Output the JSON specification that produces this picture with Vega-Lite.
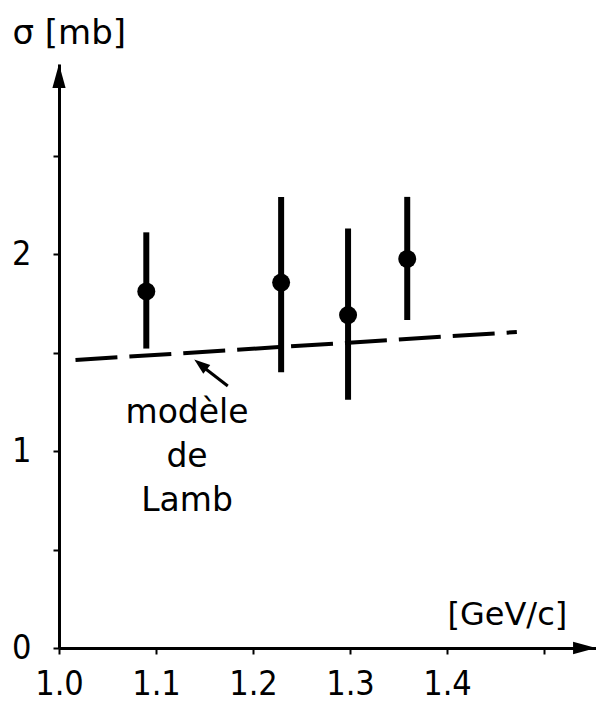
{
  "$schema": "https://vega.github.io/schema/vega-lite/v6.json",
  "width": 537,
  "height": 584,
  "autosize": {"type": "none"},
  "padding": {"left": 59, "top": 64, "right": 0, "bottom": 61},
  "background": "white",
  "config": {"view": {"stroke": null}, "font": "DejaVu Sans"},
  "datasets": {
    "pts": [
      {"x": 1.090, "y": 1.81, "lo": 1.52, "hi": 2.11},
      {"x": 1.229, "y": 1.855, "lo": 1.40, "hi": 2.29},
      {"x": 1.298, "y": 1.69, "lo": 1.26, "hi": 2.13},
      {"x": 1.359, "y": 1.975, "lo": 1.665, "hi": 2.29}
    ],
    "model": [
      {"x": 1.017, "y": 1.462},
      {"x": 1.472, "y": 1.604}
    ],
    "xarrow": [{"x": 1.5418, "y": 0}],
    "yarrow": [{"x": 1.0, "y": 2.904}],
    "pointer": [{"x": 1.174, "y": 1.330, "x2": 1.147, "y2": 1.433}],
    "pointerhead": [{"x": 1.1459, "y": 1.4396}],
    "note": [{"x": 1.132, "y": 1.142, "label": "modèle\nde\nLamb"}]
  },
  "encoding": {
    "x": {
      "field": "x", "type": "quantitative",
      "scale": {"domain": [1.0, 1.55361], "nice": false, "zero": false},
      "axis": {
        "title": "[GeV/c]",
        "values": [1.0, 1.1, 1.2, 1.3, 1.4, 1.5],
        "labelExpr": "datum.value > 1.45 ? '' : format(datum.value, '.1f')",
        "labelOverlap": false, "labelFlush": false,
        "grid": false,
        "domainColor": "black", "domainWidth": 3,
        "tickColor": "black", "tickWidth": 2, "tickSize": 6,
        "labelFont": "DejaVu Sans Condensed, DejaVu Sans", "labelFontSize": 34, "labelColor": "black",
        "labelPadding": 13,
        "titleFont": "DejaVu Sans", "titleFontSize": 32, "titleFontWeight": "normal", "titleColor": "black",
        "titleX": 388, "titleY": -24, "titleAlign": "left", "titleBaseline": "alphabetic", "titleAnchor": null
      }
    },
    "y": {
      "field": "y", "type": "quantitative",
      "scale": {"domain": [0, 2.9645], "nice": false, "zero": false},
      "axis": {
        "title": "σ [mb]",
        "values": [0, 0.5, 1, 1.5, 2, 2.5],
        "labelExpr": "datum.value % 1 === 0 ? format(datum.value, 'd') : ''",
        "labelOverlap": false, "labelFlush": false,
        "grid": false,
        "domainColor": "black", "domainWidth": 3,
        "tickColor": "black", "tickWidth": 2, "tickSize": 6,
        "labelFont": "DejaVu Sans Condensed, DejaVu Sans", "labelFontSize": 34, "labelColor": "black",
        "labelPadding": 22, "labelBaseline": "middle",
        "titleFont": "DejaVu Sans", "titleFontSize": 34, "titleFontWeight": "normal", "titleColor": "black",
        "titleAngle": 0, "titleX": -47, "titleY": -21, "titleAlign": "left", "titleBaseline": "alphabetic", "titleAnchor": null
      }
    }
  },
  "layer": [
    {
      "data": {"name": "model"},
      "mark": {"type": "line", "color": "black", "strokeWidth": 4, "strokeDash": [42, 12]}
    },
    {
      "data": {"name": "pts"},
      "mark": {"type": "rule", "color": "black", "strokeWidth": 6},
      "encoding": {
        "y": {
          "field": "lo", "type": "quantitative",
          "scale": {"domain": [0, 2.9645], "nice": false, "zero": false},
          "axis": {
            "title": "σ [mb]",
            "values": [0, 0.5, 1, 1.5, 2, 2.5],
            "labelExpr": "datum.value % 1 === 0 ? format(datum.value, 'd') : ''",
            "labelOverlap": false, "labelFlush": false,
            "grid": false,
            "domainColor": "black", "domainWidth": 3,
            "tickColor": "black", "tickWidth": 2, "tickSize": 6,
            "labelFont": "DejaVu Sans Condensed, DejaVu Sans", "labelFontSize": 34, "labelColor": "black",
            "labelPadding": 22, "labelBaseline": "middle",
            "titleFont": "DejaVu Sans", "titleFontSize": 34, "titleFontWeight": "normal", "titleColor": "black",
            "titleAngle": 0, "titleX": -47, "titleY": -21, "titleAlign": "left", "titleBaseline": "alphabetic", "titleAnchor": null
          }
        },
        "y2": {"field": "hi"}
      }
    },
    {
      "data": {"name": "pts"},
      "mark": {"type": "circle", "color": "black", "size": 324, "opacity": 1}
    },
    {
      "data": {"name": "xarrow"},
      "mark": {"type": "point", "shape": "M1,0L-1,-0.55L-1,0.55Z", "size": 529, "filled": true, "color": "black", "opacity": 1, "clip": false}
    },
    {
      "data": {"name": "yarrow"},
      "mark": {"type": "point", "shape": "M0,-1L0.55,1L-0.55,1Z", "size": 576, "filled": true, "color": "black", "opacity": 1, "clip": false}
    },
    {
      "data": {"name": "pointer"},
      "mark": {"type": "rule", "color": "black", "strokeWidth": 3},
      "encoding": {
        "x2": {"field": "x2"},
        "y2": {"field": "y2"}
      }
    },
    {
      "data": {"name": "pointerhead"},
      "mark": {"type": "point", "shape": "M0,-1L0.7,1L-0.7,1Z", "size": 256, "angle": 308.5, "filled": true, "color": "black", "opacity": 1}
    },
    {
      "data": {"name": "note"},
      "mark": {"type": "text", "font": "DejaVu Sans", "fontSize": 33, "color": "black", "align": "center", "baseline": "alphabetic", "lineBreak": "\n", "lineHeight": 44},
      "encoding": {"text": {"field": "label"}}
    }
  ]
}
